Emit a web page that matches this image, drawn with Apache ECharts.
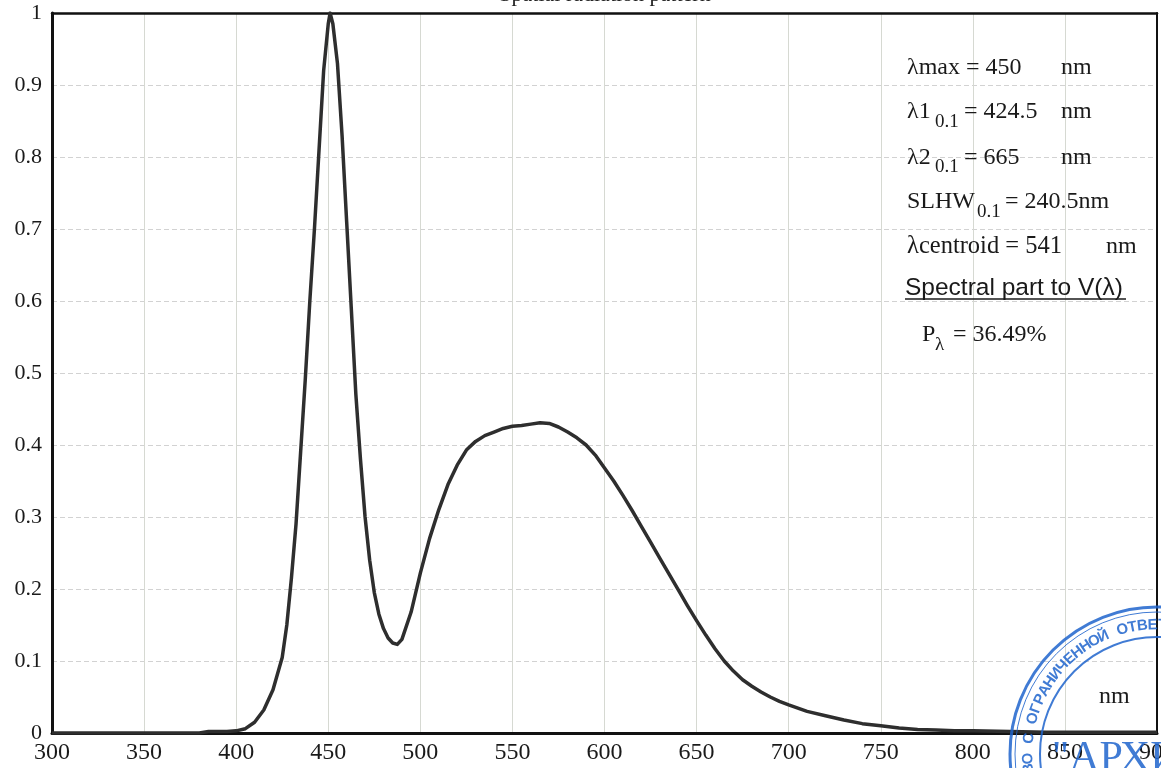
<!DOCTYPE html>
<html>
<head>
<meta charset="utf-8">
<script src="https://cdn.jsdelivr.net/npm/echarts@6/dist/echarts.min.js"></script>
<style>
html,body{margin:0;padding:0;background:#fff;}
#chart{width:1161px;height:768px;}
</style>
</head>
<body>
<div id="chart"></div>
<script>
// ---- data ----
const title = 'Spatial radiation pattern';
const wavelengths = [300,320,340,360,380,385,390,395,400,405,410,415,420,425,427.5,430,432.5,435,437.5,440,442.5,445,447.5,450,451,452.5,455,457.5,460,462.5,465,467.5,470,472.5,475,477.5,480,482.5,485,487.5,490,495,500,505,510,515,520,525,530,535,540,545,550,555,560,565,570,575,580,585,590,595,600,605,610,615,620,625,630,635,640,645,650,655,660,665,670,675,680,685,690,695,700,710,720,730,740,750,760,770,780,790,800,820,840,860,880,900];
const intensity   = [0,0,0,0,0,0.002,0.002,0.002,0.003,0.006,0.015,0.032,0.06,0.105,0.15,0.215,0.29,0.39,0.49,0.6,0.7,0.81,0.92,0.985,1.0,0.985,0.93,0.83,0.71,0.59,0.47,0.38,0.3,0.24,0.195,0.165,0.145,0.132,0.125,0.123,0.13,0.168,0.222,0.27,0.31,0.345,0.372,0.393,0.405,0.413,0.418,0.423,0.426,0.427,0.429,0.431,0.43,0.425,0.418,0.41,0.4,0.386,0.368,0.35,0.33,0.309,0.287,0.265,0.243,0.221,0.199,0.177,0.156,0.136,0.117,0.1,0.086,0.074,0.065,0.057,0.05,0.044,0.039,0.03,0.024,0.018,0.013,0.01,0.007,0.005,0.004,0.003,0.003,0.002,0.001,0.001,0.001,0.001];
const xTicks = {min:300, max:900, step:50};
const yTicks = {min:0, max:1, step:0.1};
const annotations = {
  lmax: 'λmax = 450', l1: '= 424.5', l2: '= 665', slhw: '= 240.5nm',
  centroid: 'λcentroid = 541', spectral: 'Spectral part to V(λ)', p: '= 36.49%'
};
const stampArc = 'ЩЕСТВО С ОГРАНИЧЕННОЙ ОТВЕТ';
const stampWord = '"АРХИ';

// ---- chart ----
const chart = echarts.init(document.getElementById('chart'));
const serif = 'Liberation Serif';
const txt = (x, y, s, size) => ({
  type:'text', x:x, y:y, z:100,
  style:{text:s, fill:'#1a1a1a', font: size + 'px "' + serif + '"', verticalAlign:'middle', align:'left'}
});

const graphics = [];
// title (top cut off)
graphics.push({type:'text', x:605, y:-5, z:100, style:{text:title, fill:'#222', font:'22px "Liberation Serif"', align:'center', verticalAlign:'middle'}});
// annotations
graphics.push(txt(907, 68, annotations.lmax, 24));
graphics.push(txt(1061, 68, 'nm', 24));
graphics.push(txt(907, 112, 'λ1', 24));
graphics.push(txt(935, 122, '0.1', 19));
graphics.push(txt(964, 112, annotations.l1, 24));
graphics.push(txt(1061, 112, 'nm', 24));
graphics.push(txt(907, 158, 'λ2', 24));
graphics.push(txt(935, 167, '0.1', 19));
graphics.push(txt(964, 158, annotations.l2, 24));
graphics.push(txt(1061, 158, 'nm', 24));
graphics.push(txt(907, 202, 'SLHW', 24));
graphics.push(txt(977, 212, '0.1', 19));
graphics.push(txt(1005, 202, annotations.slhw, 24));
graphics.push(txt(907, 247, annotations.centroid, 24.5));
graphics.push(txt(1106, 247, 'nm', 24));
graphics.push({type:'text', x:905, y:288, z:100, style:{text:annotations.spectral, fill:'#1a1a1a', font:'24.5px "Liberation Sans"', align:'left', verticalAlign:'middle'}});
graphics.push({type:'line', z:100, shape:{x1:905, y1:299, x2:1126, y2:299}, style:{stroke:'#1a1a1a', lineWidth:1.5}});
graphics.push(txt(922, 335, 'P', 24));
graphics.push(txt(935, 345, 'λ', 19));
graphics.push(txt(953, 335, annotations.p, 24));
graphics.push(txt(1099, 697, 'nm', 24));

// stamp
const sc = [1157, 754];
const stampColor = 'rgba(30,100,205,0.85)';
graphics.push({type:'circle', z:110, shape:{cx:sc[0], cy:sc[1], r:147}, style:{fill:'none', stroke:stampColor, lineWidth:3}});
graphics.push({type:'circle', z:110, shape:{cx:sc[0], cy:sc[1], r:142}, style:{fill:'none', stroke:stampColor, lineWidth:1}});
graphics.push({type:'circle', z:110, shape:{cx:sc[0], cy:sc[1], r:117}, style:{fill:'none', stroke:stampColor, lineWidth:2}});
const startIdx = stampArc.indexOf('О', 8);
for (let i = 0; i < stampArc.length; i++) {
  const deg = 196 + 4.5 * (i - startIdx);
  const th = deg * Math.PI / 180;
  const r = 129;
  graphics.push({type:'text', z:110, x: sc[0] + r * Math.cos(th), y: sc[1] + r * Math.sin(th),
    rotation: (270 - deg) * Math.PI / 180,
    style:{text: stampArc[i], fill: stampColor, font:'bold 15px "Liberation Sans"', align:'center', verticalAlign:'middle'}});
}
graphics.push({type:'text', z:110, x:1052, y:780, style:{text:stampWord, fill:stampColor, font:'42px "Liberation Serif"', align:'left', verticalAlign:'bottom'}});

const option = {
  backgroundColor:'#fff',
  animation:false,
  grid:{left:52, right:4, top:13, bottom:35, outerBoundsMode:'none', containLabel:false},
  xAxis:[{
    type:'value', min:xTicks.min, max:xTicks.max, interval:xTicks.step,
    axisLine:{show:true, onZero:false, lineStyle:{color:'#111', width:3}},
    axisTick:{show:false},
    axisLabel:{color:'#1a1a1a', fontFamily:serif, fontSize:24, margin:8, showMaxLabel:true, showMinLabel:true, hideOverlap:false},
    splitLine:{show:true, lineStyle:{color:'#d6d9d2', width:1}}
  },{
    type:'value', position:'top', min:xTicks.min, max:xTicks.max, interval:xTicks.step,
    axisLine:{show:true, onZero:false, lineStyle:{color:'#111', width:2.5}},
    axisTick:{show:false}, axisLabel:{show:false}, splitLine:{show:false}
  }],
  yAxis:[{
    type:'value', min:yTicks.min, max:yTicks.max, interval:yTicks.step,
    axisLine:{show:true, onZero:false, lineStyle:{color:'#111', width:3}},
    axisTick:{show:false},
    axisLabel:{color:'#1a1a1a', fontFamily:serif, fontSize:22, margin:10},
    splitLine:{show:true, lineStyle:{color:'#d2d2d2', width:1, type:[5,3]}}
  },{
    type:'value', position:'right', min:yTicks.min, max:yTicks.max, interval:yTicks.step,
    axisLine:{show:true, onZero:false, lineStyle:{color:'#111', width:2}},
    axisTick:{show:false}, axisLabel:{show:false}, splitLine:{show:false}
  }],
  series:[{
    type:'line',
    data: wavelengths.map((w, i) => [w, intensity[i]]),
    showSymbol:false,
    smooth:false,
    lineStyle:{color:'#2e2e2e', width:3.5, join:'round'},
    z:5
  }],
  graphic: graphics
};
chart.setOption(option);
</script>
</body>
</html>
